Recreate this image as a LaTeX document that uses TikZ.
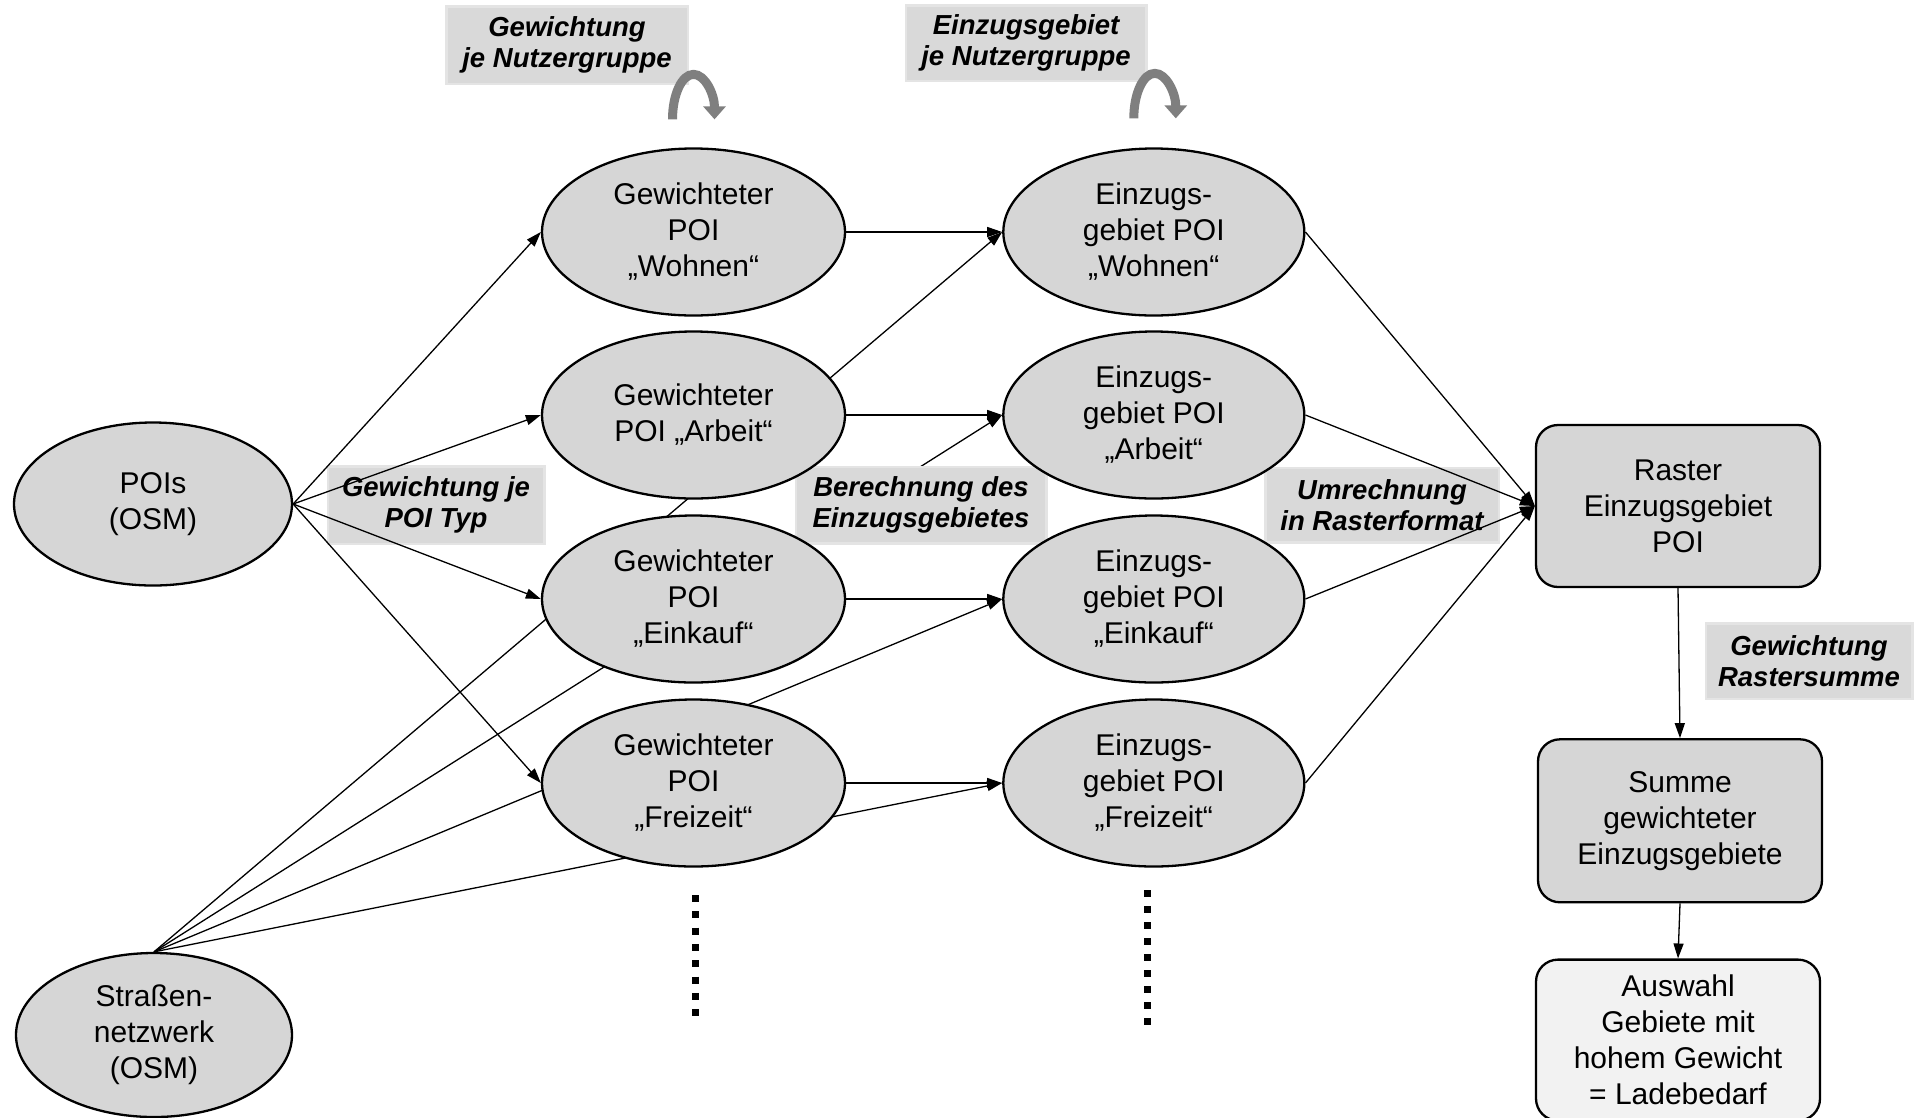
\documentclass[tikz,border=0pt]{standalone}
\usepackage{fontspec}
\setmainfont{Liberation Sans}
\usetikzlibrary{positioning,shapes.geometric,arrows.meta,calc}
\pgfdeclarelayer{bg}
\pgfdeclarelayer{mid}
\pgfsetlayers{bg,mid,main}
\definecolor{nodegray}{HTML}{D6D6D6}
\definecolor{tagggray}{HTML}{D9D9D9}
\definecolor{palegray}{HTML}{F2F2F2}
\definecolor{turngray}{HTML}{7F7F7F}
\tikzset{
  poi/.style={ellipse, draw, line width=2.3pt, fill=nodegray, inner sep=0pt,
    minimum width=303pt, minimum height=167pt, align=center,
    font=\fontsize{30}{36}\selectfont},
  src/.style={poi, minimum width=278pt, minimum height=163pt},
  rbox/.style={rectangle, rounded corners=22pt, draw, line width=2.3pt,
    fill=nodegray, inner sep=0pt, minimum width=284pt, minimum height=162pt,
    align=center, font=\fontsize{30}{36}\selectfont},
  tag/.style={fill=tagggray, preaction={draw=tagggray!70, line width=5pt},
    inner sep=0pt, align=center,
    font=\fontsize{27.5}{31}\selectfont\bfseries\itshape},
  flow/.style={line width=1.3pt, -{Triangle[length=15pt,width=10pt]}},
  turn/.style={draw=turngray, line width=9pt, -{Triangle[length=13pt,width=22pt]}},
}

\begin{document}
\begin{tikzpicture}[x=1pt,y=-1pt]
  \useasboundingbox (0,0) rectangle (1916,1117);
  % sources
  \node[src] (pois) at (153,504) {POIs\\(OSM)};
  \node[src, minimum width=276pt, minimum height=164pt] (street) at (154,1035)
    {Straßen-\\netzwerk\\(OSM)};
  % weighted POIs
  \node[poi] (gw) at (693.5,232) {Gewichteter\\POI\\„Wohnen“};
  \node[poi] (ga) at (693.5,415) {Gewichteter\\POI „Arbeit“};
  \node[poi] (ge) at (693.5,599) {Gewichteter\\POI\\„Einkauf“};
  \node[poi] (gf) at (693.5,783) {Gewichteter\\POI\\„Freizeit“};
  % catchment areas
  \node[poi, minimum width=301pt, right=156pt of gw] (ew) {Einzugs-\\gebiet POI\\„Wohnen“};
  \node[poi, minimum width=301pt, right=156pt of ga] (ea) {Einzugs-\\gebiet POI\\„Arbeit“};
  \node[poi, minimum width=301pt, right=156pt of ge] (ee) {Einzugs-\\gebiet POI\\„Einkauf“};
  \node[poi, minimum width=301pt, right=156pt of gf] (ef) {Einzugs-\\gebiet POI\\„Freizeit“};
  % raster
  \node[rbox] (raster) at (1678,506) {Raster\\Einzugsgebiet\\POI};
  \node[rbox, minimum height=163pt, below=150pt of raster, xshift=2pt] (summe)
    {Summe\\gewichteter\\Einzugsgebiete};
  \node[rbox, fill=palegray, minimum height=161pt, below=55pt of summe, xshift=-2pt] (auswahl)
    {Auswahl\\Gebiete mit\\hohem Gewicht\\= Ladebedarf};

  % labels
  \begin{pgfonlayer}{mid}
    \node[tag, minimum width=239pt, minimum height=75pt] (tgNutzer) at (567,45)
      {Gewichtung\\je Nutzergruppe};
    \node[tag, minimum width=238pt, minimum height=73pt] (tgEinzug) at (1026,43)
      {Einzugsgebiet\\je Nutzergruppe};
    \node[tag, minimum width=214pt, minimum height=75pt] (tgTyp) at (436,505)
      {Gewichtung je\\POI Typ};
    \node[tag, minimum width=248pt, minimum height=74pt] (tgBerech) at (921,505)
      {Berechnung des\\Einzugsgebietes};
    \node[tag, minimum width=231pt, minimum height=72pt] (tgRaster) at (1382,505)
      {Umrechnung\\in Rasterformat};
    \node[tag, minimum width=204pt, minimum height=73pt] (tgSumme) at (1809,661)
      {Gewichtung\\Rastersumme};
  \end{pgfonlayer}

  % street network feeds the catchment areas
  \begin{pgfonlayer}{bg}
    \draw[flow] (street.north) -- (ew.west);
    \draw[flow] (street.north) -- (ea.west);
    \draw[flow] (street.north) -- (ee.west);
    \draw[flow] (street.north) -- (ef.west);
  \end{pgfonlayer}

  \draw[flow] (pois.east) -- (gw.west);
  \draw[flow] (pois.east) -- (ga.west);
  \draw[flow] (pois.east) -- (ge.west);
  \draw[flow] (pois.east) -- (gf.west);

  \draw[flow] (gw.east) -- (ew.west);
  \draw[flow] (ga.east) -- (ea.west);
  \draw[flow] (ge.east) -- (ee.west);
  \draw[flow] (gf.east) -- (ef.west);

  \draw[flow] (ew.east) -- (raster.west);
  \draw[flow] (ea.east) -- (raster.west);
  \draw[flow] (ee.east) -- (raster.west);
  \draw[flow] (ef.east) -- (raster.west);

  \draw[flow] (raster.south) -- (summe.north);
  \draw[flow] (summe.south) -- (auswahl.north);

  % loops per user group
  \draw[turn] ($(gw.north)+(-21,-28)$) arc[start angle=180, end angle=0, x radius=21pt, y radius=45pt];
  \draw[turn] ($(ew.north)+(-20,-29)$) arc[start angle=180, end angle=0, x radius=21pt, y radius=45pt];

  % more groups
  \draw[line width=7pt, dash pattern=on 7pt off 9.3pt] (695,895) -- (695,1016);
  \draw[line width=7pt, dash pattern=on 7pt off 9pt] (1147,890) -- (1147,1025);
\end{tikzpicture}
\end{document}
